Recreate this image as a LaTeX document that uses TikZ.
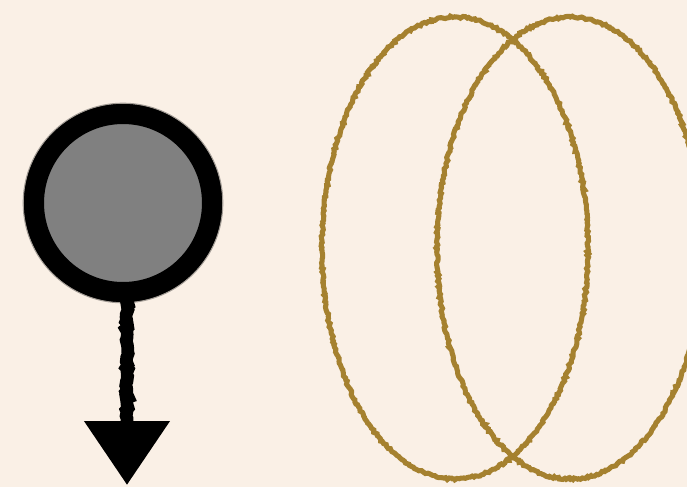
\documentclass[tikz,border=0pt]{standalone}
\usetikzlibrary{arrows.meta,decorations.pathmorphing,shapes.geometric}
\definecolor{paper}{HTML}{FAF0E6}
\definecolor{ochre}{HTML}{A5812F}
\definecolor{midgray}{HTML}{808080}
\tikzset{
  ring/.style={circle, draw=black, fill=midgray, line width=15pt, minimum size=133.5pt, inner sep=0pt},
  halo/.style={circle, draw=black, line width=#1, draw opacity=0.35, minimum size=133.5pt, inner sep=0pt},
  rough/.style={decorate, decoration={random steps, segment length=1.5pt, amplitude=0.75pt}},
  loop/.style={draw=ochre, line width=3.8pt, rough},
  connector/.style={draw=black, line width=9.5pt,
    decorate, decoration={random steps, segment length=2pt, amplitude=1pt, post length=50pt},
    -{Triangle[width=62pt, length=48pt]}}
}
\begin{document}
\begin{tikzpicture}[x=0.75pt, y=-0.75pt]
  \useasboundingbox (0,0) rectangle (687,487);
  \clip (0,0) rectangle (687,487);
  \fill[paper] (0,0) rectangle (687,487);
  % soft edge of the ring
  \node[halo=17pt] at (123,203) {};
  \node[ring] (c) at (123,203) {};
  \coordinate (tip) at (127,485);
  \coordinate (start) at (127,300);
  \draw[connector] (start) -- (tip);
  \node[ring] at (123,203) {};
  % two overlapping ellipses
  \draw[loop] (455,248) ellipse [x radius=133, y radius=231];
  \draw[loop] (570,248) ellipse [x radius=133, y radius=231];
\end{tikzpicture}
\end{document}
